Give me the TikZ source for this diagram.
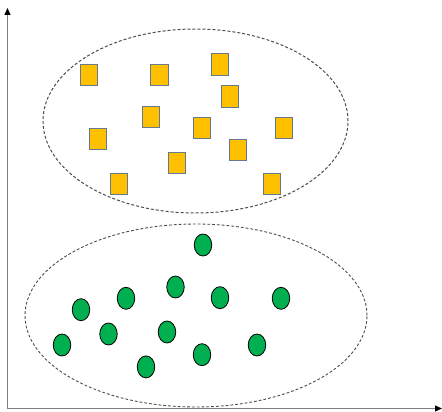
\documentclass[tikz,border=0pt]{standalone}
\usetikzlibrary{arrows.meta}
\usetikzlibrary{shapes.geometric}
\definecolor{sqfill}{HTML}{FFC000}
\definecolor{sqdraw}{HTML}{66788F}
\definecolor{cfill}{HTML}{00B050}
\definecolor{axisc}{HTML}{808080}
\tikzset{
  sq/.style={draw=sqdraw, line width=1pt, fill=sqfill, minimum width=17.5pt, minimum height=21.5pt, inner sep=0pt, rectangle},
  dot/.style={draw=black, line width=0.8pt, fill=cfill, ellipse, minimum width=17.5pt, minimum height=22pt, inner sep=0pt},
  grp/.style={draw=black!70, dash pattern=on 3pt off 2pt, line width=1pt},
  axisline/.style={draw=axisc, line width=1pt, -{Triangle[width=6pt,length=7pt,fill=black,color=black]}}
}
\begin{document}
\begin{tikzpicture}[x=1pt,y=-1pt]
\useasboundingbox (0,0) rectangle (442,412);
\coordinate (o) at (7.5,408.5);
\coordinate (ytop) at (7.5,8);
\coordinate (xend) at (442,408.5);
\draw[axisline] (o) -- (ytop);
\draw[axisline] (o) -- (xend);
\node[grp, ellipse, minimum width=305pt, minimum height=184pt] (top) at (195.5,121) {};
\node[grp, ellipse, minimum width=342pt, minimum height=183pt, dash pattern=on 2.8pt off 2pt, line width=0.9pt] (bot) at (196,315.5) {};
\foreach \i/\x/\y in {1/89/75, 2/159.5/75, 3/219.8/64.3, 4/230/96.5, 5/151/117, 6/202/128, 7/284/128, 8/98/139, 9/238/150, 10/177/163, 11/119/184, 12/272/184}
  \node[sq] (s\i) at (\x,\y) {};
\foreach \i/\x/\y in {1/203/245, 2/175.5/287, 3/126/298.3, 4/220/297.7, 5/281/298.3, 6/81/309.7, 7/108.5/334, 8/167/332, 9/62/345, 10/257/345, 11/202/354.7, 12/146/366.9}
  \node[dot] (c\i) at (\x,\y) {};
\end{tikzpicture}
\end{document}
